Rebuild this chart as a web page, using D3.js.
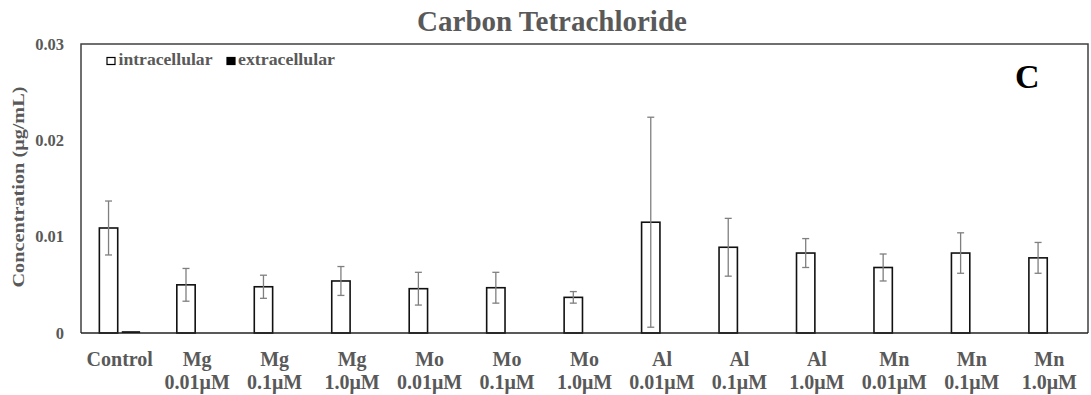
<!DOCTYPE html>
<html>
<head>
<meta charset="utf-8">
<script src="https://cdn.jsdelivr.net/npm/d3@7"></script>
<style>
  html, body { margin: 0; padding: 0; background: #fff; }
  svg { display: block; }
  text { font-family: "Liberation Serif", "Times New Roman", serif; font-weight: bold; }
</style>
</head>
<body>
<svg id="chart" width="1091" height="395"></svg>
<script>
// Treatment groups (two-line axis labels)
const categories = ["Control", "Mg 0.01", "Mg 0.1", "Mg 1.0", "Mo 0.01", "Mo 0.1", "Mo 1.0",
                    "Al 0.01", "Al 0.1", "Al 1.0", "Mn 0.01", "Mn 0.1", "Mn 1.0"];
const labelLine1 = ["Control", "Mg", "Mg", "Mg", "Mo", "Mo", "Mo", "Al", "Al", "Al", "Mn", "Mn", "Mn"];
const labelLine2 = ["", "0.01μM", "0.1μM", "1.0μM", "0.01μM", "0.1μM", "1.0μM",
                    "0.01μM", "0.1μM", "1.0μM", "0.01μM", "0.1μM", "1.0μM"];

// Mean concentrations (μg/mL) and standard deviations
const intracellular   = [0.0109, 0.0050, 0.0048, 0.0054, 0.0046, 0.0047, 0.0037, 0.0115, 0.0089, 0.0083, 0.0068, 0.0083, 0.0078];
const intracellularSD = [0.0028, 0.0017, 0.0012, 0.0015, 0.0017, 0.0016, 0.0006, 0.0109, 0.0030, 0.0015, 0.0014, 0.0021, 0.0016];
const extracellular   = [0.00008, 0, 0, 0, 0, 0, 0, 0, 0, 0, 0, 0, 0];

const seriesNames = ["intracellular", "extracellular"];
const yTicks = [0, 0.01, 0.02, 0.03];
const yTickLabels = ["0", "0.01", "0.02", "0.03"];

const svg = d3.select("#chart");
const plot = { left: 81, right: 1088, top: 44, bottom: 333 };
const textGray = "#595959";

const x = d3.scaleBand().domain(categories).range([plot.left, plot.right]).padding(0);
const xSub = d3.scaleBand().domain(seriesNames).range([0, x.bandwidth()])
  .paddingInner(0.18).paddingOuter(0.82);
const y = d3.scaleLinear().domain([0, 0.03]).range([plot.bottom, plot.top]);

// Title
svg.append("text")
  .attr("x", 552).attr("y", 31)
  .attr("text-anchor", "middle")
  .attr("font-size", 29)
  .attr("fill", textGray)
  .text("Carbon Tetrachloride");

// Plot frame (left, top, right)
svg.append("path")
  .attr("d", `M${plot.left},${plot.bottom}V${plot.top}H${plot.right}V${plot.bottom}`)
  .attr("fill", "none").attr("stroke", "#404040").attr("stroke-width", 1.5);

// Y axis labels (no tick marks)
const yAxis = d3.axisLeft(y).tickValues(yTicks).tickSize(0).tickPadding(17)
  .tickFormat((d, i) => yTickLabels[i]);
const yG = svg.append("g").attr("transform", `translate(${plot.left},0)`).call(yAxis);
yG.select(".domain").remove();
yG.selectAll("text")
  .attr("font-family", "Liberation Serif, Times New Roman, serif")
  .attr("font-weight", "bold")
  .attr("font-size", 16.5)
  .attr("fill", textGray);

// Y axis title
svg.append("text")
  .attr("transform", "translate(23.5,187) rotate(-90)")
  .attr("text-anchor", "middle")
  .attr("font-size", 17)
  .attr("fill", textGray)
  .attr("textLength", 201)
  .attr("lengthAdjust", "spacingAndGlyphs")
  .text("Concentration (μg/mL)");

// Bars
const rows = categories.map((c, i) => ({
  cat: c, intra: intracellular[i], sd: intracellularSD[i], extra: extracellular[i]
}));

svg.append("g").selectAll("rect.intra").data(rows).join("rect")
  .attr("class", "intra")
  .attr("x", d => x(d.cat) + xSub("intracellular"))
  .attr("width", xSub.bandwidth())
  .attr("y", d => y(d.intra))
  .attr("height", d => y(0) - y(d.intra))
  .attr("fill", "#fff").attr("stroke", "#111").attr("stroke-width", 1.6);

svg.append("g").selectAll("rect.extra").data(rows.filter(d => d.extra > 0)).join("rect")
  .attr("class", "extra")
  .attr("x", d => x(d.cat) + xSub("extracellular"))
  .attr("width", xSub.bandwidth())
  .attr("y", d => y(d.extra) - 1)
  .attr("height", d => y(0) - y(d.extra) + 1)
  .attr("fill", "#000");

// Error bars
const errG = svg.append("g").attr("stroke", "#7f7f7f").attr("stroke-width", 1.3).attr("fill", "none");
rows.forEach(d => {
  const cx = x(d.cat) + xSub("intracellular") + xSub.bandwidth() / 2;
  const top = y(d.intra + d.sd), bot = y(d.intra - d.sd);
  errG.append("line").attr("x1", cx).attr("x2", cx).attr("y1", top).attr("y2", bot);
  errG.append("line").attr("x1", cx - 3.5).attr("x2", cx + 3.5).attr("y1", top).attr("y2", top);
  errG.append("line").attr("x1", cx - 3.5).attr("x2", cx + 3.5).attr("y1", bot).attr("y2", bot);
});

// X axis baseline
svg.append("line")
  .attr("x1", plot.left).attr("x2", plot.right)
  .attr("y1", plot.bottom).attr("y2", plot.bottom)
  .attr("stroke", "#222").attr("stroke-width", 1.5);

// X category labels
const xl = svg.append("g").attr("fill", textGray).attr("font-size", 20).attr("text-anchor", "middle");
categories.forEach((c, i) => {
  const cx = x(c) + x.bandwidth() / 2;
  xl.append("text").attr("x", cx).attr("y", 366).text(labelLine1[i]);
  if (labelLine2[i]) xl.append("text").attr("x", cx).attr("y", 389).text(labelLine2[i]);
});

// Legend
const legend = svg.append("g");
const legendItems = [
  { name: "intracellular", fill: "#fff", sx: 107, tx: 118.5, len: 94 },
  { name: "extracellular", fill: "#000", sx: 227, tx: 238, len: 97 }
];
legendItems.forEach(it => {
  legend.append("rect").attr("x", it.sx).attr("y", 57.5).attr("width", 8).attr("height", 7)
    .attr("fill", it.fill).attr("stroke", "#000").attr("stroke-width", 1.2);
  legend.append("text").attr("x", it.tx).attr("y", 65)
    .attr("font-size", 17).attr("fill", textGray)
    .attr("textLength", it.len).attr("lengthAdjust", "spacingAndGlyphs")
    .text(it.name);
});

// Panel letter
svg.append("text")
  .attr("x", 1015).attr("y", 87.5)
  .attr("font-size", 34).attr("fill", "#000")
  .text("C");
</script>
</body>
</html>
